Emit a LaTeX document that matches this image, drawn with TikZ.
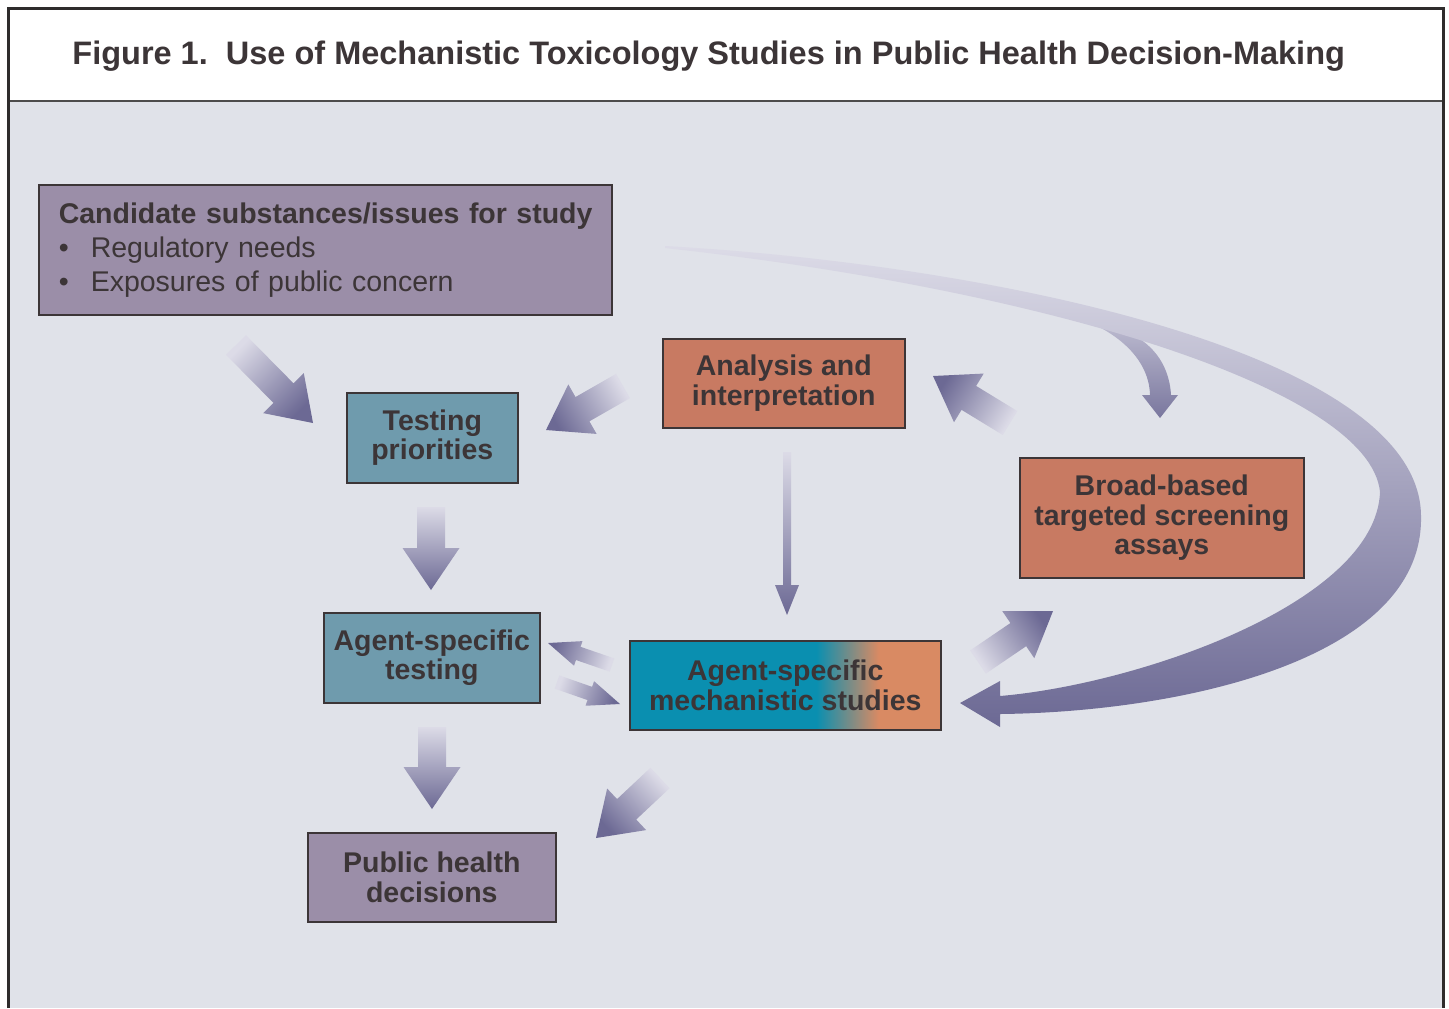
\documentclass[tikz,border=0pt]{standalone}
\usepackage{fontspec}
\setmainfont{Liberation Sans}
\usetikzlibrary{calc}

\definecolor{panelbg}{HTML}{E0E2E9}
\definecolor{framegray}{HTML}{2E2C2C}
\definecolor{textgray}{HTML}{3C3537}
\definecolor{boxpurple}{HTML}{9B8EA8}
\definecolor{boxblue}{HTML}{6F9BAD}
\definecolor{boxorange}{HTML}{C87A62}
\definecolor{mechteal}{HTML}{0A8FB0}
\definecolor{mechorange}{HTML}{D98A63}
\definecolor{arrowdark}{HTML}{6C6994}
\definecolor{arrowlight}{HTML}{DCDBE7}

% teal -> orange across the mechanistic box
\pgfdeclarehorizontalshading{mechshade}{100bp}{color(0bp)=(mechteal); color(55bp)=(mechteal); color(65bp)=(mechorange); color(100bp)=(mechorange)}

\tikzset{
  box/.style={draw=textgray, line width=0.8pt, inner sep=0pt, anchor=north west,
    font=\fontsize{14.25}{14.75}\selectfont\bfseries, text=textgray, align=center},
  fatshade/.style={top color=arrowdark, bottom color=arrowlight},
}

% fat arrow: tail, tip, half shaft, half head, head length
\newcommand{\fatarrow}[5]{%
  \coordinate (fat-t) at #1;
  \coordinate (fat-h) at #2;
  \coordinate (fat-b) at ($(fat-h)!#5!(fat-t)$);
  \pgfmathanglebetweenpoints{\pgfpointanchor{fat-t}{center}}{\pgfpointanchor{fat-h}{center}}%
  \pgfmathsetmacro\fatang{\pgfmathresult-90}%
  \shade[fatshade, shading angle=\fatang]
    ($(fat-t)!#3!90:(fat-h)$) -- ($(fat-b)!#3!90:(fat-h)$) -- ($(fat-b)!#4!90:(fat-h)$)
    -- (fat-h) -- ($(fat-b)!#4!-90:(fat-h)$) -- ($(fat-b)!#3!-90:(fat-h)$)
    -- ($(fat-t)!#3!-90:(fat-h)$) -- cycle;
}

\begin{document}
\begin{tikzpicture}[x=0.5pt,y=-0.5pt]

    \useasboundingbox (0,0) rectangle (1449,1008);

    %Marco
    \fill[white] (0,0) rectangle (1449,1008);
    \fill[panelbg] (8,101) rectangle (1443,1008);
    \draw[framegray!85, line width=1pt] (8,101) -- (1443,101);
    \draw[framegray, line width=1.5pt] (8,1008) -- (8,8) -- (1443,8) -- (1443,1008);
    \node[anchor=base west, inner sep=0pt, text=textgray, font=\fontsize{16.25}{18}\selectfont\bfseries] (title) at (72,64)
        {Figure 1.\ \ Use of Mechanistic Toxicology Studies in Public Health Decision-Making};

    %Cajas
    \node[box, fill=boxpurple, minimum width=286.5pt, minimum height=65pt,
          text width=286.5pt, align=left, font=\fontsize{14.25}{17}\selectfont] (cand) at (38,184)
        {\hspace*{10pt}\textbf{Candidate substances/issues for study}\\
         \hspace*{10pt}\makebox[16pt][l]{\textbullet}Regulatory needs\\
         \hspace*{10pt}\makebox[16pt][l]{\textbullet}Exposures of public concern};
    \node[box, fill=boxblue, minimum width=85.5pt, minimum height=45pt] (prio) at (346,392) {Testing\\priorities};
    \node[box, fill=boxorange, minimum width=121pt, minimum height=44.5pt] (anal) at (662,338) {Analysis and\\interpretation};
    \node[box, fill=boxorange, minimum width=142pt, minimum height=60pt] (broad) at (1019,457) {Broad-based\\targeted screening\\assays};
    \node[box, fill=boxblue, minimum width=108pt, minimum height=45pt] (agtest) at (323,612) {Agent-specific\\testing};
    \node[box, shade, shading=mechshade, minimum width=155.5pt, minimum height=44.5pt] (mech) at (629,640) {Agent-specific\\mechanistic studies};
    \node[box, fill=boxpurple, minimum width=124pt, minimum height=44.5pt] (pub) at (307,832) {Public health\\decisions};

    %Flechas rectas
    \fatarrow{(236,345)}{(313,423)}{7pt}{14.25pt}{21pt}
    \fatarrow{(623,386)}{(546,430)}{7pt}{14.25pt}{21pt}
    \fatarrow{(1010,423)}{(933,376)}{7pt}{14.25pt}{21pt}
    \fatarrow{(787,452)}{(787,615)}{2pt}{6pt}{15pt}
    \fatarrow{(612,665)}{(548,643)}{3.5pt}{6.5pt}{16pt}
    \fatarrow{(557,682)}{(620,704)}{3.5pt}{6.5pt}{16pt}
    \fatarrow{(978,662)}{(1053,611)}{7pt}{14.25pt}{21pt}
    \fatarrow{(660,778)}{(596,838)}{7pt}{14.25pt}{21pt}
    \fatarrow{(431,507)}{(431,590)}{7pt}{14.25pt}{21pt}
    \fatarrow{(432,727)}{(432,809)}{7pt}{14.25pt}{21pt}

    %Flecha curva
    \shade[top color=arrowlight!82!arrowdark, bottom color=arrowdark!88!arrowlight]
        (1045,308) .. controls (1110,322) and (1149,355) .. (1150,395) -- (1142,395) -- (1160,418)
        -- (1178,395) -- (1171,395) .. controls (1169,362) and (1150,342) .. (1127,332) -- cycle;
    \shade[top color=arrowlight, bottom color=arrowdark]
        (665,246) .. controls (1000,265) and (1420,355) .. (1421,516)
        .. controls (1424,660) and (1180,712) .. (1000,714)
        -- (1000,727) -- (960,703) -- (1000,681) -- (1000,696)
        .. controls (1140,684) and (1376,602) .. (1380,492)
        .. controls (1370,390) and (1050,290) .. (665,248) -- cycle;

\end{tikzpicture}
\end{document}
